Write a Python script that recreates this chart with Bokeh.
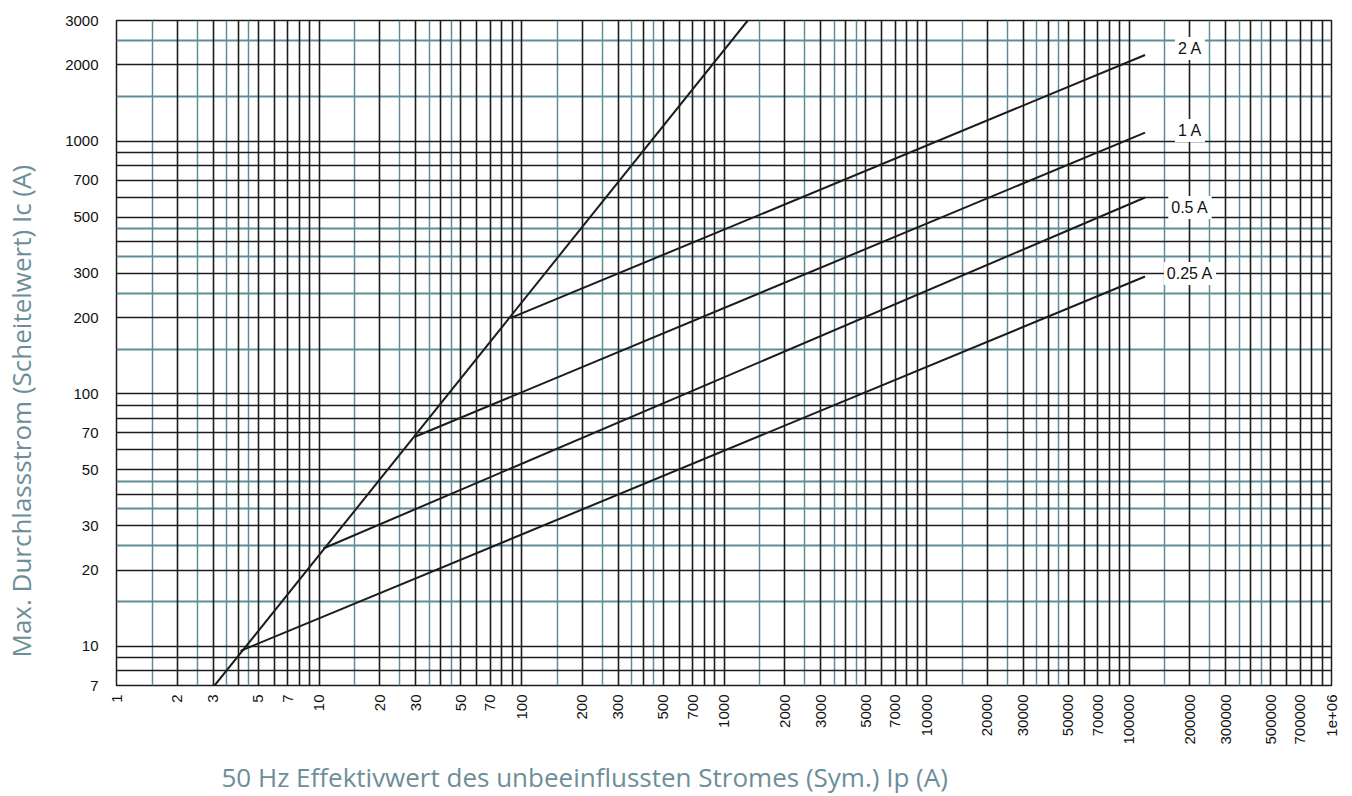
import numpy as np
from bokeh.plotting import figure
from bokeh.models import (FixedTicker, Grid, Label, Title, CustomJSTickFormatter,
                          Range1d)
from bokeh.embed import file_html
from bokeh.resources import INLINE

# ---------------- data ----------------
# unlimited (steep) characteristic
steep_ip = [3.05, 1310]
steep_ic = [7, 3000]

# limited characteristics per fuse rating
series_names = ["2 A", "1 A", "0.5 A", "0.25 A"]
knee_ip = [88, 30, 10.5, 4.1]
knee_ic = [199, 67.7, 24.4, 9.6]
end_ip = [120000, 120000, 120000, 120000]
end_ic = [2190, 1080, 598, 291]

# label anchors for the series names
label_ip = [200000, 200000, 200000, 200000]
label_ic = [2325, 1100, 546, 299]

x_ticks = [1, 2, 3, 5, 7, 10, 20, 30, 50, 70, 100, 200, 300, 500, 700, 1000,
           2000, 3000, 5000, 7000, 10000, 20000, 30000, 50000, 70000, 100000,
           200000, 300000, 500000, 700000, 1000000]
x_tick_labels = ["1", "2", "3", "5", "7", "10", "20", "30", "50", "70", "100",
                 "200", "300", "500", "700", "1000", "2000", "3000", "5000",
                 "7000", "10000", "20000", "30000", "50000", "70000", "100000",
                 "200000", "300000", "500000", "700000", "1e+06"]
y_ticks = [7, 10, 20, 30, 50, 70, 100, 200, 300, 500, 700, 1000, 2000, 3000]
y_tick_labels = ["7", "10", "20", "30", "50", "70", "100", "200", "300", "500",
                 "700", "1000", "2000", "3000"]

grid_major_mult = [1, 2, 3, 4, 5, 6, 7, 8, 9]
grid_minor_mult = [1.5, 2.5, 3.5, 4.5]
x_decades = [1, 10, 100, 1000, 10000, 100000, 1000000]
y_decades = [1, 10, 100, 1000]

x_min, x_max = 1, 1000000
y_min, y_max = 7, 3000

x_title = "50 Hz Effektivwert des unbeeinflussten Stromes (Sym.) Ip (A)"
y_title = "Max. Durchlassstrom (Scheitelwert) Ic (A)"

# ---------------- styles ----------------
BLACK = "#1c1c1c"
TEAL = "#5e8d95"
TITLE_COLOR = "#6d8e98"
TITLE_FONT = "Open Sans"
TITLE_SIZE = "26px"

def grid_vals(decades, mults, lo, hi):
    out = []
    for d in decades:
        for m in mults:
            v = d * m
            if lo - 1e-9 <= v <= hi * (1 + 1e-9):
                out.append(v)
    return out

x_major = grid_vals(x_decades, grid_major_mult, x_min, x_max)
x_minor = grid_vals(x_decades, grid_minor_mult, x_min, x_max)
y_major = grid_vals(y_decades, grid_major_mult, y_min, y_max)
y_minor = grid_vals(y_decades, grid_minor_mult, y_min, y_max)

p = figure(width=1352, height=796, x_axis_type="log", y_axis_type="log",
           x_range=Range1d(x_min, x_max), y_range=Range1d(y_min, y_max),
           output_backend="svg", toolbar_location=None,
           min_border_left=116, min_border_right=21, min_border_top=20,
           min_border_bottom=111)
p.outline_line_color = BLACK
p.outline_line_width = 1.5
p.background_fill_color = "white"

# remove default grids
p.xgrid.visible = False
p.ygrid.visible = False

# teal (intermediate) grid first, then black grid
p.add_layout(Grid(dimension=0, ticker=FixedTicker(ticks=x_minor),
                  grid_line_color=TEAL, grid_line_width=1.5))
p.add_layout(Grid(dimension=1, ticker=FixedTicker(ticks=y_minor),
                  grid_line_color=TEAL, grid_line_width=2))
p.add_layout(Grid(dimension=0, ticker=FixedTicker(ticks=x_major),
                  grid_line_color=BLACK, grid_line_width=1.6))
p.add_layout(Grid(dimension=1, ticker=FixedTicker(ticks=y_major),
                  grid_line_color=BLACK, grid_line_width=1.4))

JS_LOOKUP = """
for (let i = 0; i < vals.length; i++) {
    if (Math.abs(vals[i] - tick) <= 1e-6 * vals[i]) return labs[i];
}
return "";
"""

# axes
p.xaxis.ticker = FixedTicker(ticks=x_ticks)
p.xaxis.formatter = CustomJSTickFormatter(
    args=dict(vals=x_ticks, labs=x_tick_labels), code=JS_LOOKUP)
p.yaxis.ticker = FixedTicker(ticks=y_ticks)
p.yaxis.formatter = CustomJSTickFormatter(
    args=dict(vals=y_ticks, labs=y_tick_labels), code=JS_LOOKUP)
for ax in (p.xaxis[0], p.yaxis[0]):
    ax.axis_line_color = None
    ax.major_tick_line_color = None
    ax.minor_tick_line_color = None
    ax.major_label_text_font = "Liberation Sans"
    ax.major_label_text_font_size = "15px"
    ax.major_label_text_color = "#111111"
    # blank spacer label: pushes the outer title away from the tick labels
    ax.axis_label = " "
p.xaxis.major_label_orientation = np.pi / 2
p.xaxis.major_label_standoff = 3
p.xaxis.axis_label_text_font_size = "6px"
p.xaxis.axis_label_standoff = 0
p.yaxis.major_label_standoff = 12
p.yaxis.axis_label_text_font_size = "10px"
p.yaxis.axis_label_standoff = 10

# curves
p.line(steep_ip, steep_ic, line_color=BLACK, line_width=2)
for i in range(len(series_names)):
    p.line([knee_ip[i], end_ip[i]], [knee_ic[i], end_ic[i]],
           line_color=BLACK, line_width=2)
    p.add_layout(Label(x=label_ip[i], y=label_ic[i], text=series_names[i],
                       text_align="center", text_baseline="middle",
                       text_font="Liberation Sans", text_font_size="16px",
                       text_color="#111111",
                       background_fill_color="white",
                       padding=3))

# titles
p.add_layout(Title(text=x_title, align="left", offset=105, standoff=0,
                   vertical_align="bottom",
                   text_font=TITLE_FONT, text_font_size=TITLE_SIZE,
                   text_font_style="normal", text_color=TITLE_COLOR), "below")
p.add_layout(Title(text=y_title, align="left", offset=28, standoff=0,
                   vertical_align="bottom",
                   text_font=TITLE_FONT, text_font_size=TITLE_SIZE,
                   text_font_style="normal", text_color=TITLE_COLOR), "left")

open("out.html", "w").write(file_html(p, INLINE))
